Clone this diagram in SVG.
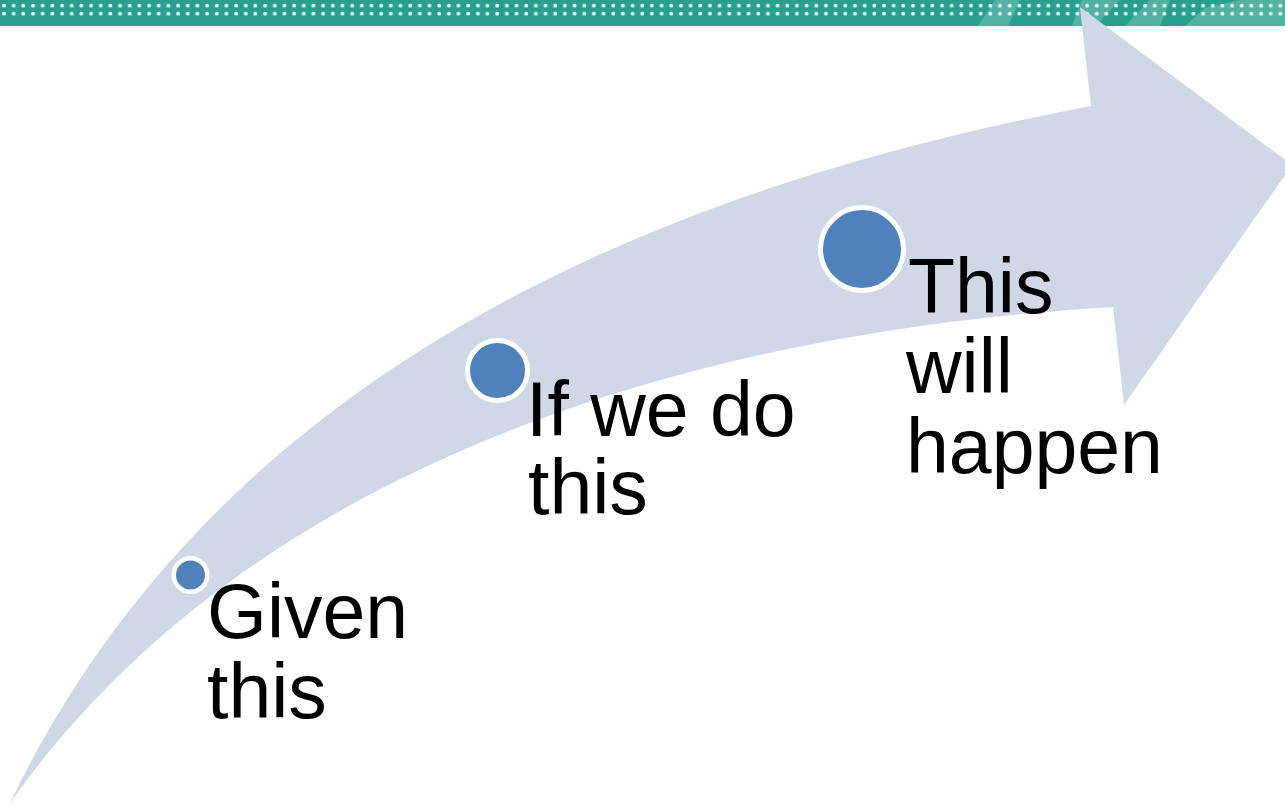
<svg xmlns="http://www.w3.org/2000/svg" width="1285" height="806" viewBox="0 0 1285 806">
  <style>
    .lbl { font-family: "Liberation Sans", Arial, sans-serif; font-size: 77px; fill: #000000; }
    .dot { fill: #4f81bd; stroke: #ffffff; }
  </style>
  <defs>
    <pattern id="dots" x="0" y="0" width="9.67" height="8" patternUnits="userSpaceOnUse">
      <circle cx="4" cy="5.7" r="1.9" fill="#ffffff" fill-opacity="0.95"/>
    </pattern>
  </defs>
  <rect width="1285" height="806" fill="#ffffff"/>
  <g id="topbar">
    <rect x="0" y="0" width="1285" height="26" fill="#27a18e"/>
    <g fill="#ffffff" fill-opacity="0.2">
      <polygon points="978,26 995,0 1020,0 1008,26"/>
      <polygon points="1072,26 1082,0 1120,0 1095,26"/>
      <polygon points="1125,26 1150,0 1170,0 1160,26"/>
      <polygon points="1185,26 1205,8 1240,0 1285,0 1285,26"/>
    </g>
    <rect x="0" y="0" width="1285" height="18" fill="url(#dots)"/>
    <rect x="0" y="26" width="1285" height="2" fill="#eef6f5"/>
  </g>
  <g id="arrow">
    <path d="M10,803 C185,440 540,210 1091,106 L1080,7 L1292,165 L1124,405 L1113,307 C720,330 260,450 10,803 Z" fill="#d0d8e8"/>
  </g>
  <g id="node-given">
    <circle class="dot" cx="190.5" cy="575" r="16.75" stroke-width="4.5"/>
    <text class="lbl" x="207" y="638">Given</text>
    <text class="lbl" x="207" y="718">this</text>
  </g>
  <g id="node-ifwedo">
    <circle class="dot" cx="497.5" cy="370.5" r="30" stroke-width="5"/>
    <text class="lbl" x="526" y="436">If we do</text>
    <text class="lbl" x="528" y="514">this</text>
  </g>
  <g id="node-happen">
    <circle class="dot" cx="862" cy="249" r="41.5" stroke-width="5"/>
    <text class="lbl" x="908" y="313">This</text>
    <text class="lbl" x="906" y="393">will</text>
    <text class="lbl" x="906" y="473">happen</text>
  </g>
  <g id="connectors"/>
</svg>
